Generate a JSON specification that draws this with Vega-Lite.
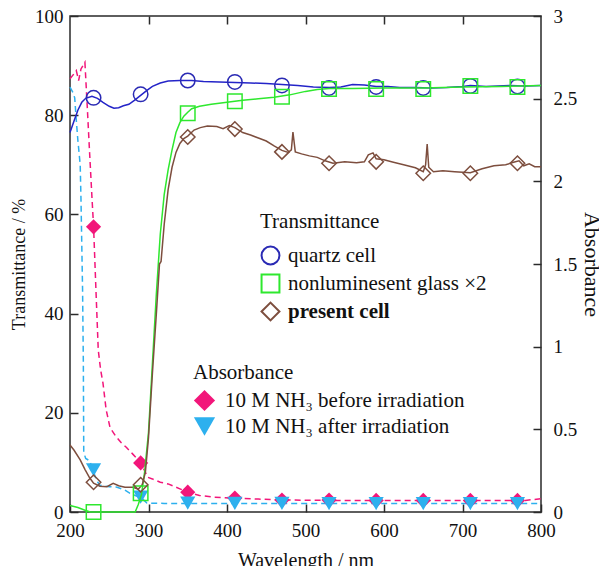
{
  "$schema": "https://vega.github.io/schema/vega-lite/v6.json",
  "autosize": {"type": "none"},
  "width": 471,
  "height": 496,
  "padding": {"left": 70, "top": 16, "right": 58, "bottom": 54},
  "background": "white",
  "datasets": {
    "trans": [
      {"wl": 200, "T": 76.5, "series": "quartz cell"},
      {"wl": 205, "T": 78.8, "series": "quartz cell"},
      {"wl": 210, "T": 81, "series": "quartz cell"},
      {"wl": 215, "T": 82.6, "series": "quartz cell"},
      {"wl": 220, "T": 83.4, "series": "quartz cell"},
      {"wl": 228, "T": 83.8, "series": "quartz cell"},
      {"wl": 235, "T": 83.4, "series": "quartz cell"},
      {"wl": 242, "T": 82.6, "series": "quartz cell"},
      {"wl": 250, "T": 81.8, "series": "quartz cell"},
      {"wl": 256, "T": 81.4, "series": "quartz cell"},
      {"wl": 262, "T": 81.5, "series": "quartz cell"},
      {"wl": 268, "T": 81.9, "series": "quartz cell"},
      {"wl": 275, "T": 82.2, "series": "quartz cell"},
      {"wl": 282, "T": 83, "series": "quartz cell"},
      {"wl": 290, "T": 84, "series": "quartz cell"},
      {"wl": 298, "T": 85, "series": "quartz cell"},
      {"wl": 305, "T": 85.8, "series": "quartz cell"},
      {"wl": 315, "T": 86.5, "series": "quartz cell"},
      {"wl": 325, "T": 86.9, "series": "quartz cell"},
      {"wl": 340, "T": 87, "series": "quartz cell"},
      {"wl": 355, "T": 87, "series": "quartz cell"},
      {"wl": 370, "T": 86.8, "series": "quartz cell"},
      {"wl": 390, "T": 86.7, "series": "quartz cell"},
      {"wl": 410, "T": 86.6, "series": "quartz cell"},
      {"wl": 430, "T": 86.5, "series": "quartz cell"},
      {"wl": 450, "T": 86.4, "series": "quartz cell"},
      {"wl": 470, "T": 86.2, "series": "quartz cell"},
      {"wl": 490, "T": 86, "series": "quartz cell"},
      {"wl": 510, "T": 85.7, "series": "quartz cell"},
      {"wl": 530, "T": 85.6, "series": "quartz cell"},
      {"wl": 545, "T": 85.7, "series": "quartz cell"},
      {"wl": 560, "T": 86.2, "series": "quartz cell"},
      {"wl": 575, "T": 86.1, "series": "quartz cell"},
      {"wl": 590, "T": 85.8, "series": "quartz cell"},
      {"wl": 605, "T": 85.8, "series": "quartz cell"},
      {"wl": 620, "T": 85.6, "series": "quartz cell"},
      {"wl": 640, "T": 85.6, "series": "quartz cell"},
      {"wl": 660, "T": 85.5, "series": "quartz cell"},
      {"wl": 680, "T": 85.6, "series": "quartz cell"},
      {"wl": 700, "T": 85.8, "series": "quartz cell"},
      {"wl": 710, "T": 86, "series": "quartz cell"},
      {"wl": 730, "T": 85.8, "series": "quartz cell"},
      {"wl": 745, "T": 85.9, "series": "quartz cell"},
      {"wl": 760, "T": 86, "series": "quartz cell"},
      {"wl": 780, "T": 85.9, "series": "quartz cell"},
      {"wl": 800, "T": 86, "series": "quartz cell"},
      {"wl": 200, "T": 1.3, "series": "nonluminesent glass ×2"},
      {"wl": 210, "T": 0.9, "series": "nonluminesent glass ×2"},
      {"wl": 220, "T": 0.3, "series": "nonluminesent glass ×2"},
      {"wl": 226, "T": 0, "series": "nonluminesent glass ×2"},
      {"wl": 283, "T": 0, "series": "nonluminesent glass ×2"},
      {"wl": 287, "T": 1.5, "series": "nonluminesent glass ×2"},
      {"wl": 291, "T": 3.5, "series": "nonluminesent glass ×2"},
      {"wl": 295, "T": 8, "series": "nonluminesent glass ×2"},
      {"wl": 300, "T": 16, "series": "nonluminesent glass ×2"},
      {"wl": 305, "T": 30, "series": "nonluminesent glass ×2"},
      {"wl": 310, "T": 44, "series": "nonluminesent glass ×2"},
      {"wl": 315, "T": 56, "series": "nonluminesent glass ×2"},
      {"wl": 320, "T": 64, "series": "nonluminesent glass ×2"},
      {"wl": 325, "T": 69, "series": "nonluminesent glass ×2"},
      {"wl": 330, "T": 73, "series": "nonluminesent glass ×2"},
      {"wl": 335, "T": 76.5, "series": "nonluminesent glass ×2"},
      {"wl": 340, "T": 78.5, "series": "nonluminesent glass ×2"},
      {"wl": 345, "T": 79.8, "series": "nonluminesent glass ×2"},
      {"wl": 350, "T": 80.6, "series": "nonluminesent glass ×2"},
      {"wl": 355, "T": 81.3, "series": "nonluminesent glass ×2"},
      {"wl": 365, "T": 81.8, "series": "nonluminesent glass ×2"},
      {"wl": 380, "T": 82.2, "series": "nonluminesent glass ×2"},
      {"wl": 400, "T": 82.6, "series": "nonluminesent glass ×2"},
      {"wl": 420, "T": 83, "series": "nonluminesent glass ×2"},
      {"wl": 440, "T": 83.3, "series": "nonluminesent glass ×2"},
      {"wl": 460, "T": 83.6, "series": "nonluminesent glass ×2"},
      {"wl": 480, "T": 84.1, "series": "nonluminesent glass ×2"},
      {"wl": 500, "T": 84.8, "series": "nonluminesent glass ×2"},
      {"wl": 515, "T": 85.2, "series": "nonluminesent glass ×2"},
      {"wl": 530, "T": 85.4, "series": "nonluminesent glass ×2"},
      {"wl": 560, "T": 85.4, "series": "nonluminesent glass ×2"},
      {"wl": 600, "T": 85.5, "series": "nonluminesent glass ×2"},
      {"wl": 650, "T": 85.5, "series": "nonluminesent glass ×2"},
      {"wl": 700, "T": 85.7, "series": "nonluminesent glass ×2"},
      {"wl": 750, "T": 85.8, "series": "nonluminesent glass ×2"},
      {"wl": 800, "T": 86, "series": "nonluminesent glass ×2"},
      {"wl": 200, "T": 13.5, "series": "present cell"},
      {"wl": 205, "T": 12.5, "series": "present cell"},
      {"wl": 213, "T": 10.5, "series": "present cell"},
      {"wl": 219, "T": 8.6, "series": "present cell"},
      {"wl": 225, "T": 6.9, "series": "present cell"},
      {"wl": 230, "T": 5.8, "series": "present cell"},
      {"wl": 238, "T": 5.2, "series": "present cell"},
      {"wl": 247, "T": 5.1, "series": "present cell"},
      {"wl": 255, "T": 5.8, "series": "present cell"},
      {"wl": 262, "T": 5.3, "series": "present cell"},
      {"wl": 270, "T": 5, "series": "present cell"},
      {"wl": 280, "T": 5, "series": "present cell"},
      {"wl": 287, "T": 4.6, "series": "present cell"},
      {"wl": 292, "T": 5.5, "series": "present cell"},
      {"wl": 296, "T": 8, "series": "present cell"},
      {"wl": 300, "T": 15, "series": "present cell"},
      {"wl": 305, "T": 28, "series": "present cell"},
      {"wl": 310, "T": 40, "series": "present cell"},
      {"wl": 314, "T": 50, "series": "present cell"},
      {"wl": 316, "T": 50.5, "series": "present cell"},
      {"wl": 320, "T": 58, "series": "present cell"},
      {"wl": 325, "T": 65, "series": "present cell"},
      {"wl": 330, "T": 69.5, "series": "present cell"},
      {"wl": 335, "T": 72.5, "series": "present cell"},
      {"wl": 340, "T": 74.3, "series": "present cell"},
      {"wl": 345, "T": 75.3, "series": "present cell"},
      {"wl": 350, "T": 75.8, "series": "present cell"},
      {"wl": 358, "T": 77, "series": "present cell"},
      {"wl": 366, "T": 77.5, "series": "present cell"},
      {"wl": 375, "T": 77.8, "series": "present cell"},
      {"wl": 387, "T": 77.7, "series": "present cell"},
      {"wl": 395, "T": 77.3, "series": "present cell"},
      {"wl": 403, "T": 77.9, "series": "present cell"},
      {"wl": 410, "T": 77.5, "series": "present cell"},
      {"wl": 420, "T": 76.5, "series": "present cell"},
      {"wl": 430, "T": 76, "series": "present cell"},
      {"wl": 440, "T": 75.4, "series": "present cell"},
      {"wl": 450, "T": 74.8, "series": "present cell"},
      {"wl": 460, "T": 73.8, "series": "present cell"},
      {"wl": 470, "T": 72.9, "series": "present cell"},
      {"wl": 478, "T": 72.5, "series": "present cell"},
      {"wl": 482, "T": 73, "series": "present cell"},
      {"wl": 484, "T": 76.6, "series": "present cell"},
      {"wl": 487, "T": 72.6, "series": "present cell"},
      {"wl": 495, "T": 72.2, "series": "present cell"},
      {"wl": 505, "T": 71.8, "series": "present cell"},
      {"wl": 515, "T": 71.5, "series": "present cell"},
      {"wl": 525, "T": 70.8, "series": "present cell"},
      {"wl": 535, "T": 70.3, "series": "present cell"},
      {"wl": 550, "T": 70.6, "series": "present cell"},
      {"wl": 565, "T": 70.4, "series": "present cell"},
      {"wl": 575, "T": 70.6, "series": "present cell"},
      {"wl": 580, "T": 72, "series": "present cell"},
      {"wl": 586, "T": 72.4, "series": "present cell"},
      {"wl": 590, "T": 71.2, "series": "present cell"},
      {"wl": 600, "T": 71, "series": "present cell"},
      {"wl": 612, "T": 70.5, "series": "present cell"},
      {"wl": 625, "T": 70, "series": "present cell"},
      {"wl": 640, "T": 69.4, "series": "present cell"},
      {"wl": 650, "T": 68.6, "series": "present cell"},
      {"wl": 653, "T": 70, "series": "present cell"},
      {"wl": 655, "T": 74.2, "series": "present cell"},
      {"wl": 657, "T": 69.5, "series": "present cell"},
      {"wl": 663, "T": 68.6, "series": "present cell"},
      {"wl": 675, "T": 68.8, "series": "present cell"},
      {"wl": 690, "T": 68.6, "series": "present cell"},
      {"wl": 710, "T": 68.4, "series": "present cell"},
      {"wl": 725, "T": 69.2, "series": "present cell"},
      {"wl": 740, "T": 69.8, "series": "present cell"},
      {"wl": 755, "T": 70, "series": "present cell"},
      {"wl": 765, "T": 70.5, "series": "present cell"},
      {"wl": 772, "T": 70.8, "series": "present cell"},
      {"wl": 778, "T": 69.8, "series": "present cell"},
      {"wl": 785, "T": 70.2, "series": "present cell"},
      {"wl": 792, "T": 69.6, "series": "present cell"},
      {"wl": 800, "T": 69.6, "series": "present cell"}
    ],
    "transPts": [
      {"wl": 230, "T": 83.5, "series": "quartz cell"},
      {"wl": 290, "T": 84.2, "series": "quartz cell"},
      {"wl": 350, "T": 87, "series": "quartz cell"},
      {"wl": 410, "T": 86.7, "series": "quartz cell"},
      {"wl": 470, "T": 86, "series": "quartz cell"},
      {"wl": 530, "T": 85.5, "series": "quartz cell"},
      {"wl": 590, "T": 85.7, "series": "quartz cell"},
      {"wl": 650, "T": 85.5, "series": "quartz cell"},
      {"wl": 710, "T": 85.9, "series": "quartz cell"},
      {"wl": 770, "T": 85.8, "series": "quartz cell"},
      {"wl": 230, "T": 0, "series": "nonluminesent glass ×2"},
      {"wl": 290, "T": 3.8, "series": "nonluminesent glass ×2"},
      {"wl": 350, "T": 80.4, "series": "nonluminesent glass ×2"},
      {"wl": 410, "T": 82.8, "series": "nonluminesent glass ×2"},
      {"wl": 470, "T": 83.7, "series": "nonluminesent glass ×2"},
      {"wl": 530, "T": 85.3, "series": "nonluminesent glass ×2"},
      {"wl": 590, "T": 85.3, "series": "nonluminesent glass ×2"},
      {"wl": 650, "T": 85.3, "series": "nonluminesent glass ×2"},
      {"wl": 710, "T": 85.9, "series": "nonluminesent glass ×2"},
      {"wl": 770, "T": 85.7, "series": "nonluminesent glass ×2"},
      {"wl": 230, "T": 6, "series": "present cell"},
      {"wl": 290, "T": 5.5, "series": "present cell"},
      {"wl": 350, "T": 75.6, "series": "present cell"},
      {"wl": 410, "T": 77.2, "series": "present cell"},
      {"wl": 470, "T": 72.6, "series": "present cell"},
      {"wl": 530, "T": 70.3, "series": "present cell"},
      {"wl": 590, "T": 70.6, "series": "present cell"},
      {"wl": 650, "T": 68.3, "series": "present cell"},
      {"wl": 710, "T": 68.3, "series": "present cell"},
      {"wl": 770, "T": 70.3, "series": "present cell"}
    ],
    "abs": [
      {"wl": 200, "A": 2.62, "series": "10 M NH₃ before irradiation"},
      {"wl": 205, "A": 2.65, "series": "10 M NH₃ before irradiation"},
      {"wl": 208, "A": 2.67, "series": "10 M NH₃ before irradiation"},
      {"wl": 211, "A": 2.61, "series": "10 M NH₃ before irradiation"},
      {"wl": 214, "A": 2.68, "series": "10 M NH₃ before irradiation"},
      {"wl": 219, "A": 2.72, "series": "10 M NH₃ before irradiation"},
      {"wl": 222, "A": 2.45, "series": "10 M NH₃ before irradiation"},
      {"wl": 225, "A": 2.17, "series": "10 M NH₃ before irradiation"},
      {"wl": 228, "A": 1.9, "series": "10 M NH₃ before irradiation"},
      {"wl": 230, "A": 1.73, "series": "10 M NH₃ before irradiation"},
      {"wl": 233, "A": 1.35, "series": "10 M NH₃ before irradiation"},
      {"wl": 236, "A": 0.98, "series": "10 M NH₃ before irradiation"},
      {"wl": 239, "A": 0.86, "series": "10 M NH₃ before irradiation"},
      {"wl": 242, "A": 0.78, "series": "10 M NH₃ before irradiation"},
      {"wl": 246, "A": 0.62, "series": "10 M NH₃ before irradiation"},
      {"wl": 251, "A": 0.51, "series": "10 M NH₃ before irradiation"},
      {"wl": 258, "A": 0.46, "series": "10 M NH₃ before irradiation"},
      {"wl": 265, "A": 0.42, "series": "10 M NH₃ before irradiation"},
      {"wl": 272, "A": 0.39, "series": "10 M NH₃ before irradiation"},
      {"wl": 280, "A": 0.35, "series": "10 M NH₃ before irradiation"},
      {"wl": 290, "A": 0.3, "series": "10 M NH₃ before irradiation"},
      {"wl": 295, "A": 0.25, "series": "10 M NH₃ before irradiation"},
      {"wl": 299, "A": 0.21, "series": "10 M NH₃ before irradiation"},
      {"wl": 305, "A": 0.2, "series": "10 M NH₃ before irradiation"},
      {"wl": 315, "A": 0.18, "series": "10 M NH₃ before irradiation"},
      {"wl": 325, "A": 0.17, "series": "10 M NH₃ before irradiation"},
      {"wl": 340, "A": 0.14, "series": "10 M NH₃ before irradiation"},
      {"wl": 350, "A": 0.12, "series": "10 M NH₃ before irradiation"},
      {"wl": 365, "A": 0.1, "series": "10 M NH₃ before irradiation"},
      {"wl": 382, "A": 0.09, "series": "10 M NH₃ before irradiation"},
      {"wl": 410, "A": 0.084, "series": "10 M NH₃ before irradiation"},
      {"wl": 440, "A": 0.078, "series": "10 M NH₃ before irradiation"},
      {"wl": 470, "A": 0.073, "series": "10 M NH₃ before irradiation"},
      {"wl": 530, "A": 0.07, "series": "10 M NH₃ before irradiation"},
      {"wl": 600, "A": 0.07, "series": "10 M NH₃ before irradiation"},
      {"wl": 700, "A": 0.07, "series": "10 M NH₃ before irradiation"},
      {"wl": 780, "A": 0.07, "series": "10 M NH₃ before irradiation"},
      {"wl": 800, "A": 0.08, "series": "10 M NH₃ before irradiation"},
      {"wl": 200, "A": 2.57, "series": "10 M NH₃ after irradiation"},
      {"wl": 204, "A": 2.535, "series": "10 M NH₃ after irradiation"},
      {"wl": 206, "A": 2.505, "series": "10 M NH₃ after irradiation"},
      {"wl": 208, "A": 2.37, "series": "10 M NH₃ after irradiation"},
      {"wl": 210, "A": 2.25, "series": "10 M NH₃ after irradiation"},
      {"wl": 213, "A": 2.1, "series": "10 M NH₃ after irradiation"},
      {"wl": 214, "A": 1.89, "series": "10 M NH₃ after irradiation"},
      {"wl": 216, "A": 1.35, "series": "10 M NH₃ after irradiation"},
      {"wl": 217, "A": 0.9, "series": "10 M NH₃ after irradiation"},
      {"wl": 217.5, "A": 0.36, "series": "10 M NH₃ after irradiation"},
      {"wl": 220, "A": 0.324, "series": "10 M NH₃ after irradiation"},
      {"wl": 225, "A": 0.31, "series": "10 M NH₃ after irradiation"},
      {"wl": 229, "A": 0.255, "series": "10 M NH₃ after irradiation"},
      {"wl": 234, "A": 0.19, "series": "10 M NH₃ after irradiation"},
      {"wl": 238, "A": 0.162, "series": "10 M NH₃ after irradiation"},
      {"wl": 250, "A": 0.153, "series": "10 M NH₃ after irradiation"},
      {"wl": 260, "A": 0.15, "series": "10 M NH₃ after irradiation"},
      {"wl": 270, "A": 0.132, "series": "10 M NH₃ after irradiation"},
      {"wl": 276, "A": 0.114, "series": "10 M NH₃ after irradiation"},
      {"wl": 283, "A": 0.1, "series": "10 M NH₃ after irradiation"},
      {"wl": 289, "A": 0.09, "series": "10 M NH₃ after irradiation"},
      {"wl": 294, "A": 0.072, "series": "10 M NH₃ after irradiation"},
      {"wl": 298, "A": 0.054, "series": "10 M NH₃ after irradiation"},
      {"wl": 320, "A": 0.052, "series": "10 M NH₃ after irradiation"},
      {"wl": 400, "A": 0.051, "series": "10 M NH₃ after irradiation"},
      {"wl": 500, "A": 0.051, "series": "10 M NH₃ after irradiation"},
      {"wl": 600, "A": 0.051, "series": "10 M NH₃ after irradiation"},
      {"wl": 700, "A": 0.051, "series": "10 M NH₃ after irradiation"},
      {"wl": 800, "A": 0.051, "series": "10 M NH₃ after irradiation"}
    ],
    "absPts": [
      {"wl": 230, "A": 1.725, "series": "10 M NH₃ before irradiation"},
      {"wl": 290, "A": 0.297, "series": "10 M NH₃ before irradiation"},
      {"wl": 350, "A": 0.12, "series": "10 M NH₃ before irradiation"},
      {"wl": 410, "A": 0.084, "series": "10 M NH₃ before irradiation"},
      {"wl": 470, "A": 0.072, "series": "10 M NH₃ before irradiation"},
      {"wl": 530, "A": 0.072, "series": "10 M NH₃ before irradiation"},
      {"wl": 590, "A": 0.07, "series": "10 M NH₃ before irradiation"},
      {"wl": 650, "A": 0.07, "series": "10 M NH₃ before irradiation"},
      {"wl": 710, "A": 0.07, "series": "10 M NH₃ before irradiation"},
      {"wl": 770, "A": 0.07, "series": "10 M NH₃ before irradiation"},
      {"wl": 230, "A": 0.255, "series": "10 M NH₃ after irradiation"},
      {"wl": 290, "A": 0.09, "series": "10 M NH₃ after irradiation"},
      {"wl": 350, "A": 0.054, "series": "10 M NH₃ after irradiation"},
      {"wl": 410, "A": 0.052, "series": "10 M NH₃ after irradiation"},
      {"wl": 470, "A": 0.052, "series": "10 M NH₃ after irradiation"},
      {"wl": 530, "A": 0.051, "series": "10 M NH₃ after irradiation"},
      {"wl": 590, "A": 0.051, "series": "10 M NH₃ after irradiation"},
      {"wl": 650, "A": 0.051, "series": "10 M NH₃ after irradiation"},
      {"wl": 710, "A": 0.051, "series": "10 M NH₃ after irradiation"},
      {"wl": 770, "A": 0.051, "series": "10 M NH₃ after irradiation"}
    ]
  },
  "layer": [
    {
      "data": {"name": "abs"},
      "mark": {"type": "line", "strokeWidth": 1.5, "strokeDash": [6, 4]},
      "encoding": {
        "x": {"field": "wl", "type": "quantitative", "scale": {"domain": [200, 800], "nice": false},
              "axis": {"orient": "top", "labels": false, "title": null, "values": [300, 400, 500, 600, 700], "domain": false}},
        "y": {"field": "A", "type": "quantitative", "scale": {"domain": [0, 3], "nice": false},
              "axis": {"orient": "right", "title": "Absorbance", "titleFontSize": 22, "values": [0, 0.5, 1, 1.5, 2, 2.5, 3], "format": "~g", "labelPadding": 20, "titlePadding": 3, "domain": false}},
        "color": {"field": "series", "type": "nominal", "legend": null,
                  "scale": {"domain": ["10 M NH₃ before irradiation", "10 M NH₃ after irradiation"], "range": ["#f2167a", "#2db0ee"]}}
      }
    },
    {
      "data": {"name": "absPts"},
      "mark": {"type": "point", "filled": true, "opacity": 1, "size": 230},
      "encoding": {
        "x": {"field": "wl", "type": "quantitative", "scale": {"domain": [200, 800], "nice": false}, "axis": null},
        "y": {"field": "A", "type": "quantitative", "scale": {"domain": [0, 3], "nice": false}, "axis": null},
        "color": {"field": "series", "type": "nominal",
                  "scale": {"domain": ["10 M NH₃ before irradiation", "10 M NH₃ after irradiation"], "range": ["#f2167a", "#2db0ee"]},
                  "legend": {"orient": "none", "legendX": 123, "legendY": 346, "padding": 0, "title": "Absorbance", "symbolSize": 450, "rowPadding": 3, "titlePadding": 6, "labelOffset": 9}},
        "shape": {"field": "series", "type": "nominal",
                  "scale": {"domain": ["10 M NH₃ before irradiation", "10 M NH₃ after irradiation"], "range": ["diamond", "triangle-down"]},
                  "legend": {"orient": "none", "legendX": 123, "legendY": 346, "padding": 0, "title": "Absorbance", "symbolSize": 450, "rowPadding": 3, "titlePadding": 6, "labelOffset": 9}}
      }
    },
    {
      "data": {"name": "trans"},
      "mark": {"type": "line", "strokeWidth": 1.5},
      "encoding": {
        "x": {"field": "wl", "type": "quantitative", "scale": {"domain": [200, 800], "nice": false}, "axis": null},
        "y": {"field": "T", "type": "quantitative", "scale": {"domain": [0, 100], "nice": false},
              "axis": {"orient": "left", "title": "Transmittance / %", "titleFontSize": 18, "values": [0, 20, 40, 60, 80, 100], "labelPadding": 15, "titlePadding": 6, "domain": false}},
        "color": {"field": "series", "type": "nominal", "legend": null,
                  "scale": {"domain": ["quartz cell", "nonluminesent glass ×2", "present cell"], "range": ["#2424c8", "#2ee82e", "#7d4e3e"]}}
      }
    },
    {
      "data": {"name": "transPts"},
      "mark": {"type": "point", "filled": false, "opacity": 1, "strokeWidth": 1.5, "size": 210},
      "encoding": {
        "x": {"field": "wl", "type": "quantitative", "scale": {"domain": [200, 800], "nice": false},
              "axis": {"orient": "bottom", "title": "Wavelength / nm", "titleFontSize": 20, "values": [200, 300, 400, 500, 600, 700, 800], "labelPadding": 17, "titlePadding": 10, "domain": false}},
        "y": {"field": "T", "type": "quantitative", "scale": {"domain": [0, 100], "nice": false}, "axis": null},
        "stroke": {"field": "series", "type": "nominal", "legend": null,
                   "scale": {"domain": ["quartz cell", "nonluminesent glass ×2", "present cell"], "range": ["#2a2ab4", "#2ee82e", "#7d4e3e"]}},
        "color": {"field": "series", "type": "nominal",
                  "scale": {"domain": ["quartz cell", "nonluminesent glass ×2", "present cell"], "range": ["#2a2aa8", "#2ee82e", "#d41e2c"]},
                  "legend": {"orient": "none", "legendX": 190, "legendY": 195, "padding": 0, "title": "Transmittance", "symbolSize": 320, "symbolStrokeWidth": 2, "rowPadding": 1, "titlePadding": 13, "labelOffset": 7,
                             "labelFontWeight": {"expr": "datum.label === 'present cell' ? 'bold' : 'normal'"}}},
        "shape": {"field": "series", "type": "nominal",
                  "scale": {"domain": ["quartz cell", "nonluminesent glass ×2", "present cell"], "range": ["circle", "square", "diamond"]},
                  "legend": {"orient": "none", "legendX": 190, "legendY": 195, "padding": 0, "title": "Transmittance", "symbolSize": 320, "symbolStrokeWidth": 2, "rowPadding": 1, "titlePadding": 13, "labelOffset": 7,
                             "labelFontWeight": {"expr": "datum.label === 'present cell' ? 'bold' : 'normal'"}}}
      }
    }
  ],
  "resolve": {"scale": {"y": "independent", "color": "independent", "shape": "independent", "stroke": "independent"}, "axis": {"x": "independent"}},
  "config": {
    "font": "Liberation Serif",
    "view": {"stroke": "#2a2a2a", "strokeWidth": 1.5},
    "axis": {
      "grid": false,
      "labelFlush": false,
      "labelOverlap": false,
      "labelFont": "Liberation Serif",
      "titleFont": "Liberation Serif",
      "labelFontSize": 19,
      "titleFontSize": 19,
      "titleFontWeight": "normal",
      "labelColor": "#111",
      "titleColor": "#111",
      "tickColor": "#2a2a2a",
      "tickWidth": 1.5,
      "tickSize": -8
    },
    "legend": {
      "labelFont": "Liberation Serif",
      "titleFont": "Liberation Serif",
      "labelFontSize": 21,
      "titleFontSize": 21,
      "titleFontWeight": "normal",
      "labelColor": "#111",
      "titleColor": "#111",
      "labelLimit": 400
    }
  }
}
